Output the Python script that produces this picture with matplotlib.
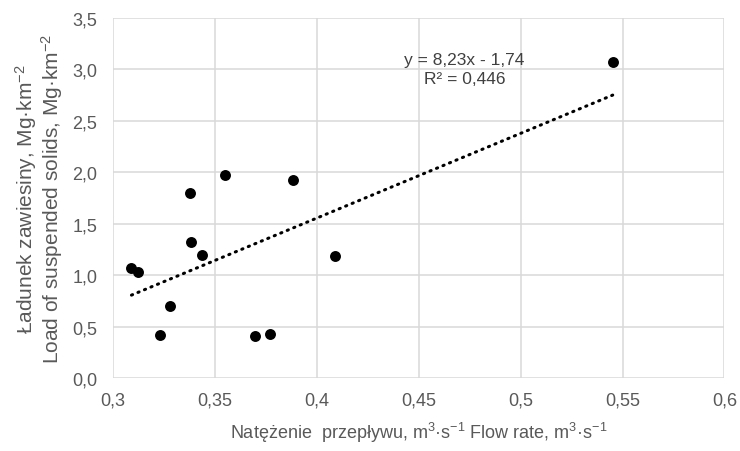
import numpy as np
import matplotlib
matplotlib.use("Agg")
import matplotlib.pyplot as plt
from matplotlib.ticker import FuncFormatter

plt.rcParams['font.family'] = ['Liberation Sans', 'DejaVu Sans']
plt.rcParams['mathtext.fontset'] = 'custom'
plt.rcParams['mathtext.rm'] = 'Liberation Sans'
plt.rcParams['mathtext.it'] = 'Liberation Sans:italic'

# flow rate [m3/s] and suspended solids load [Mg/km2]
flow = [0.3092, 0.3124, 0.3233, 0.3283, 0.3377, 0.3385, 0.3440,
        0.3550, 0.3696, 0.3770, 0.3885, 0.4089, 0.5452]
load = [1.07, 1.03, 0.42, 0.70, 1.80, 1.32, 1.19,
        1.97, 0.41, 0.43, 1.92, 1.18, 3.07]

slope = 8.23
intercept = -1.74
r2 = 0.446

xticks = [0.3, 0.35, 0.4, 0.45, 0.5, 0.55, 0.6]
yticks = [0.0, 0.5, 1.0, 1.5, 2.0, 2.5, 3.0, 3.5]

txt = '#595959'
grid = '#d9d9d9'

fig = plt.figure(figsize=(7.4, 4.52), dpi=100)
ax = fig.add_axes([0.1523, 0.1615, 0.8267, 0.7975])

ax.set_xlim(0.3, 0.6)
ax.set_ylim(0, 3.5)
ax.set_xticks(xticks)
ax.set_yticks(yticks)
ax.xaxis.set_major_formatter(FuncFormatter(lambda v, p: ('%g' % round(v, 2)).replace('.', ',')))
ax.yaxis.set_major_formatter(FuncFormatter(lambda v, p: ('%.1f' % v).replace('.', ',')))
ax.grid(True, color=grid, lw=1.1)
ax.set_axisbelow(True)
for s in ax.spines.values():
    s.set_visible(False)
ax.tick_params(axis='x', length=0, labelsize=13, labelcolor=txt, pad=10)
ax.tick_params(axis='y', length=0, labelsize=13, labelcolor=txt, pad=11)

# trend line
xl = np.array([min(flow), max(flow)])
ax.plot(xl, slope * xl + intercept, color='black', lw=2.2,
        linestyle=(0, (0.4, 1.9)), dash_capstyle='round', zorder=2)

ax.scatter(flow, load, s=62, color='black', zorder=3, linewidths=0)

eq = 'y = %sx - %s' % (('%.2f' % slope).replace('.', ','), ('%.2f' % -intercept).replace('.', ','))
ax.text(0.4725, 3.0, eq + '\nR² = ' + ('%.3f' % r2).replace('.', ','),
        ha='center', va='center', fontsize=12.5, color='#404040', linespacing=1.3)

ax.set_xlabel(r'Natężenie  przepływu, m$^{3}$·s$^{-1}$ Flow rate, m$^{3}$·s$^{-1}$',
              fontsize=13, color=txt, labelpad=8)
ax.set_ylabel('Ładunek zawiesiny, Mg·km$^{-2}$\nLoad of suspended solids, Mg·km$^{-2}$',
              fontsize=15, color=txt, labelpad=5, linespacing=1.0)

fig.savefig('out.png', dpi=100)
